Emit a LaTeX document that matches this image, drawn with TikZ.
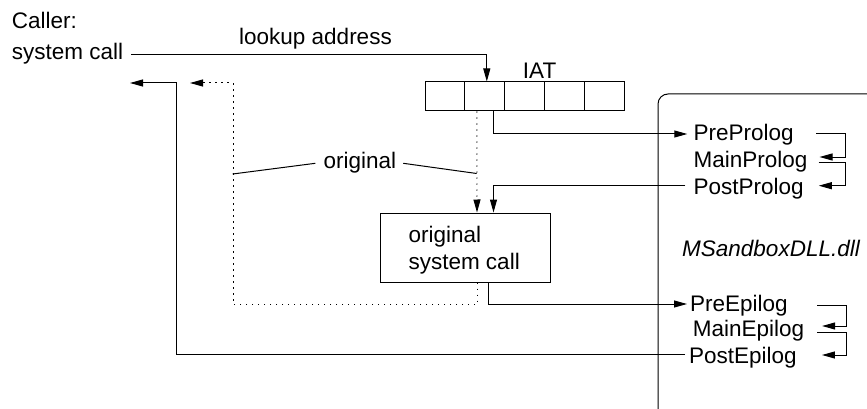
\documentclass[tikz,border=0pt]{standalone}
\usepackage{fontspec}
\setmainfont{Liberation Sans}
\usetikzlibrary{arrows.meta}
\begin{document}
\begin{tikzpicture}[x=1pt,y=-1pt,
  every node/.style={inner sep=0pt, font=\fontsize{22.5}{27}\selectfont},
  lbl/.style={anchor=base west},
  ln/.style={line width=1pt},
  arr/.style={ln, -{Triangle[length=13pt,width=7pt]}},
  dots/.style={dash pattern=on 1.2pt off 4.8pt},
  cell/.style={draw, line width=1pt, minimum width=39.8pt, minimum height=29pt},
  callbox/.style={draw, line width=1pt, minimum width=170pt, minimum height=69pt}]
\useasboundingbox (0,0) rectangle (867,409);
\clip (0,0) rectangle (867,409);

% the hooking DLL (its right and bottom edges run off the page)
\draw[ln, rounded corners=10pt] (658,94) rectangle (940,430);

% caller side
\node[lbl] (caller) at (11.7,28.3) {Caller:};
\node[lbl] (syscall) at (11.7,60) {system call};
\node[lbl] (lookup) at (239,44.3) {lookup address};

% import address table
\node[lbl] (iatlbl) at (522.7,78.3) {IAT};
\foreach \i in {1,...,5}
  \node[cell] (c\i) at ({445+39.8*(\i-1)},96.5) {};

% original system call
\node[callbox] (osc) at (465,247.5) {};
\node[lbl] (osc1) at (408.3,242) {original};
\node[lbl] (osc2) at (408.3,269.5) {system call};

% DLL contents
\node[lbl, font=\fontsize{22.5}{27}\selectfont\itshape] (dll) at (682,256.7) {MSandboxDLL.dll};
\node[lbl] (prepro)  at (693.3,140.7) {PreProlog};
\node[lbl] (mainpro) at (693.3,167.3) {MainProlog};
\node[lbl] (postpro) at (693.3,194.3) {PostProlog};
\node[lbl] (preepi)  at (690,311)     {PreEpilog};
\node[lbl] (mainepi) at (692.7,336.7) {MainEpilog};
\node[lbl] (postepi) at (689,363.3)   {PostEpilog};

% return targets on the caller side
\coordinate (retsol) at (130,83);
\coordinate (retdot) at (190,83);

% label for the two "original" return paths
\node[lbl] (origlbl) at (323.3,168.3) {original};
\coordinate (legl) at (232.7,174);
\coordinate (legr) at (476.7,173.5);
\draw[ln] ([xshift=-8pt,yshift=5pt]origlbl.base west) -- (legl);
\draw[ln] ([xshift=7pt,yshift=5pt]origlbl.base east) -- (legr);

% call through the IAT
\draw[arr] ([xshift=8pt,yshift=5pt]syscall.base east) -| ([xshift=2pt]c2.north);
\draw[arr] ([xshift=9pt]c2.south) |- ([xshift=-6pt,yshift=6.7pt]prepro.base west);
\draw[arr, dots] ([xshift=-8pt]c2.south) -- ([xshift=12pt]osc.north);

% prologue chain
\draw[arr] ([xshift=22.7pt,yshift=6.7pt]prepro.base east) -- ++(29,0)
  |- ([xshift=12pt,yshift=10.3pt]mainpro.base east);
\draw[arr] ([xshift=11pt,yshift=4.6pt]mainpro.base east) -- ++(27.3,0)
  |- ([xshift=15pt,yshift=8.6pt]postpro.base east);
\draw[arr] ([xshift=-8pt,yshift=8.6pt]postpro.base west) -| ([xshift=28.5pt]osc.north);

% epilogue chain
\draw[arr] ([xshift=23pt]osc.south) |- ([xshift=-3pt,yshift=7pt]preepi.base west);
\draw[arr] ([xshift=29.5pt,yshift=6pt]preepi.base east) -- ++(28.7,0)
  |- ([xshift=17.7pt,yshift=10.7pt]mainepi.base east);
\draw[arr] ([xshift=13pt,yshift=4pt]mainepi.base east) -- ++(28.7,0)
  |- ([xshift=25pt,yshift=8.3pt]postepi.base east);

% returns to the caller
\draw[arr] ([xshift=-4pt,yshift=9.3pt]postepi.base west) -| ([xshift=46pt]retsol) -- (retsol);
\draw[arr, dots] ([xshift=12pt]osc.south) -- ++(0,22) -| ([xshift=43pt]retdot) -- (retdot);
\end{tikzpicture}
\end{document}
